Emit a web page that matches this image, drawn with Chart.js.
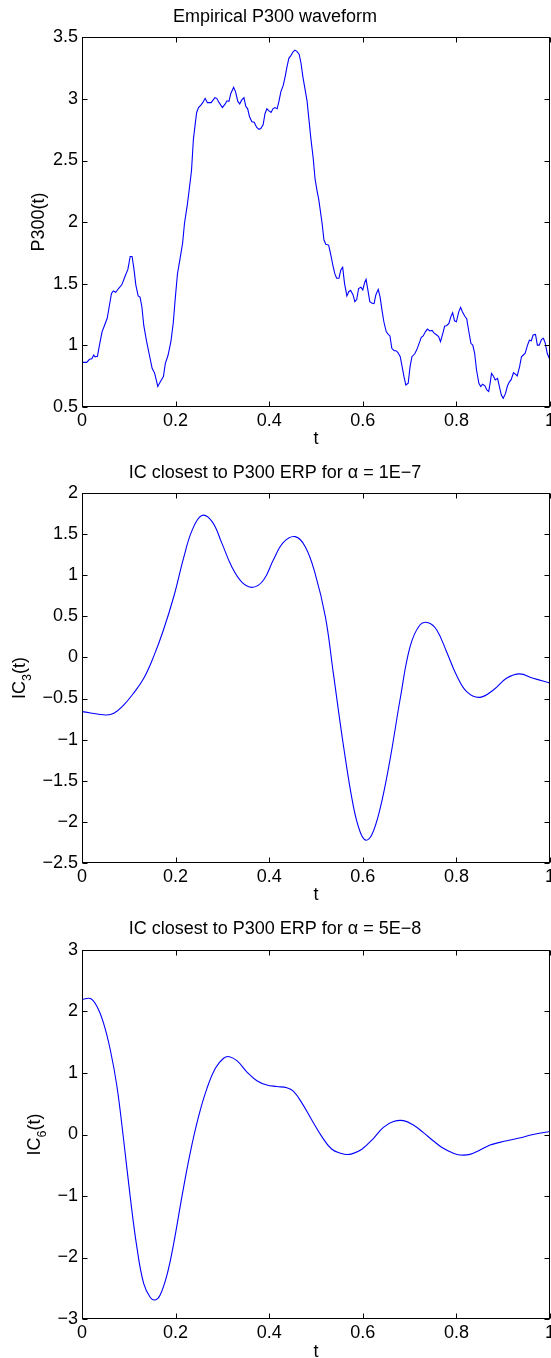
<!DOCTYPE html>
<html>
<head>
<meta charset="utf-8">
<script src="https://cdn.jsdelivr.net/npm/chart.js@4.4.0/dist/chart.umd.min.js"></script>
<style>
  html, body { margin: 0; padding: 0; background: #fff; }
  body { width: 551px; height: 1358px; position: relative; overflow: hidden; }
  canvas { position: absolute; left: 0; }
</style>
</head>
<body>
<canvas id="c1" width="551" height="450" style="top:0px"></canvas>
<canvas id="c2" width="551" height="460" style="top:450px"></canvas>
<canvas id="c3" width="551" height="448" style="top:910px"></canvas>
<script>
// values
const xTicks = [0, 0.2, 0.4, 0.6, 0.8, 1];
const p300Ticks = [0.5, 1, 1.5, 2, 2.5, 3, 3.5];
const ic3Ticks = [-2.5, -2, -1.5, -1, -0.5, 0, 0.5, 1, 1.5, 2];
const ic6Ticks = [-3, -2, -1, 0, 1, 2, 3];

const p300T = [0, 0.01, 0.016, 0.021, 0.025, 0.028, 0.033, 0.038, 0.043, 0.048, 0.054, 0.058, 0.063, 0.067, 0.072, 0.078, 0.085, 0.091, 0.098, 0.103,
  0.107, 0.111, 0.115, 0.120, 0.124, 0.128, 0.132, 0.138, 0.144, 0.150, 0.155, 0.162, 0.167, 0.174, 0.178, 0.184, 0.190, 0.195, 0.1995, 0.204,
  0.209, 0.215, 0.219, 0.225, 0.229, 0.234, 0.238, 0.242, 0.245, 0.249, 0.254, 0.258, 0.263, 0.268, 0.276, 0.280, 0.284, 0.288, 0.293, 0.300,
  0.306, 0.310, 0.314, 0.318, 0.324, 0.328, 0.333, 0.337, 0.341, 0.346, 0.350, 0.354, 0.358, 0.363, 0.368, 0.373, 0.378, 0.382, 0.387, 0.391,
  0.395, 0.399, 0.404, 0.408, 0.412, 0.417, 0.421, 0.425, 0.430, 0.434, 0.438, 0.442, 0.446, 0.451, 0.455, 0.459, 0.464, 0.468, 0.472, 0.477,
  0.481, 0.485, 0.489, 0.494, 0.498, 0.502, 0.506, 0.513, 0.517, 0.521, 0.527, 0.531, 0.536, 0.540, 0.544, 0.549, 0.553, 0.557, 0.561, 0.566,
  0.570, 0.574, 0.579, 0.583, 0.587, 0.591, 0.596, 0.600, 0.604, 0.607, 0.611, 0.615, 0.620, 0.624, 0.628, 0.633, 0.637, 0.641, 0.645, 0.650,
  0.654, 0.658, 0.662, 0.667, 0.671, 0.675, 0.680, 0.684, 0.688, 0.692, 0.697, 0.701, 0.705, 0.711, 0.715, 0.719, 0.725, 0.729, 0.734, 0.738,
  0.743, 0.748, 0.752, 0.758, 0.762, 0.766, 0.771, 0.775, 0.779, 0.784, 0.788, 0.792, 0.796, 0.800, 0.805, 0.809, 0.813, 0.818, 0.822, 0.826,
  0.831, 0.835, 0.839, 0.843, 0.848, 0.852, 0.856, 0.861, 0.865, 0.869, 0.872, 0.875, 0.879, 0.883, 0.888, 0.892, 0.896, 0.900, 0.905, 0.909,
  0.913, 0.917, 0.922, 0.926, 0.930, 0.935, 0.939, 0.943, 0.947, 0.952, 0.956, 0.960, 0.964, 0.969, 0.973, 0.977, 0.982, 0.986, 0.990, 0.994, 1.0];
const p300V = [0.86, 0.86, 0.885, 0.89, 0.92, 0.905, 0.91, 1.015, 1.11, 1.16, 1.22, 1.31, 1.42, 1.44, 1.43, 1.46, 1.49, 1.55, 1.615, 1.72,
  1.72, 1.62, 1.49, 1.40, 1.39, 1.31, 1.16, 1.03, 0.92, 0.81, 0.775, 0.665, 0.70, 0.745, 0.85, 0.92, 1.03, 1.18, 1.39, 1.58,
  1.69, 1.83, 1.99, 2.14, 2.26, 2.42, 2.67, 2.80, 2.89, 2.93, 2.95, 2.97, 3.005, 2.97, 2.97, 2.99, 3.01, 3.005, 2.97, 2.93,
  2.96, 2.985, 2.98, 3.045, 3.095, 3.06, 2.98, 2.96, 2.99, 3.01, 2.94, 2.92, 2.855, 2.815, 2.81, 2.77, 2.753, 2.76, 2.79, 2.88,
  2.92, 2.905, 2.89, 2.92, 2.93, 2.92, 2.985, 3.06, 3.11, 3.18, 3.26, 3.33, 3.35, 3.383, 3.397, 3.387, 3.364, 3.29, 3.18, 3.07,
  2.98, 2.83, 2.68, 2.52, 2.35, 2.26, 2.18, 1.99, 1.854, 1.82, 1.813, 1.745, 1.65, 1.583, 1.543, 1.543, 1.61, 1.632, 1.50, 1.40,
  1.434, 1.445, 1.41, 1.353, 1.37, 1.46, 1.47, 1.448, 1.51, 1.535, 1.445, 1.353, 1.34, 1.337, 1.41, 1.453, 1.39, 1.285, 1.19, 1.11,
  1.09, 1.075, 0.974, 0.955, 0.955, 0.94, 0.906, 0.825, 0.744, 0.676, 0.69, 0.825, 0.906, 0.93, 0.96, 1.0, 1.064, 1.075, 1.11, 1.13,
  1.115, 1.12, 1.10, 1.082, 1.07, 1.028, 1.096, 1.155, 1.158, 1.177, 1.23, 1.264, 1.198, 1.19, 1.27, 1.307, 1.27, 1.235, 1.215, 1.123,
  1.015, 1.0, 0.934, 0.798, 0.69, 0.664, 0.683, 0.67, 0.636, 0.624, 0.69, 0.771, 0.75, 0.717, 0.73, 0.662, 0.595, 0.568, 0.608, 0.668,
  0.70, 0.72, 0.776, 0.765, 0.75, 0.825, 0.906, 0.92, 0.934, 1.0, 1.04, 1.036, 1.082, 1.087, 1.0, 1.0, 1.047, 1.055, 1.015, 0.934, 0.88];

const ic3T = [0, 0.05, 0.068, 0.089, 0.11, 0.132, 0.153, 0.174, 0.196, 0.217, 0.235, 0.256, 0.278, 0.299, 0.32, 0.342, 0.365, 0.388, 0.409, 0.43,
  0.4555, 0.477, 0.498, 0.52, 0.537, 0.559, 0.58, 0.594, 0.606, 0.619, 0.637, 0.658, 0.68, 0.701, 0.722, 0.74, 0.758, 0.779, 0.80, 0.822,
  0.85, 0.879, 0.907, 0.935, 0.964, 1.0];
const ic3V = [-0.66, -0.70, -0.68, -0.58, -0.437, -0.254, 0.01, 0.335, 0.74, 1.21, 1.545, 1.73, 1.655, 1.39, 1.106, 0.915, 0.855, 0.944, 1.19, 1.40,
  1.472, 1.35, 1.025, 0.497, -0.19, -1.087, -1.818, -2.12, -2.225, -2.163, -1.84, -1.25, -0.50, 0.132, 0.396, 0.424, 0.335, 0.07, -0.214, -0.417,
  -0.486, -0.396, -0.254, -0.20, -0.254, -0.31];

const ic6T = [0, 0.018, 0.032, 0.046, 0.0605, 0.0747, 0.089, 0.103, 0.117, 0.1317, 0.146, 0.1566, 0.167, 0.1815, 0.196, 0.2135, 0.231, 0.249, 0.267, 0.285,
  0.3025, 0.315, 0.331, 0.352, 0.3737, 0.395, 0.416, 0.4377, 0.452, 0.47, 0.491, 0.5125, 0.534, 0.555, 0.566, 0.5765, 0.598, 0.623, 0.644, 0.6655,
  0.687, 0.708, 0.7295, 0.751, 0.772, 0.7936, 0.808, 0.829, 0.8505, 0.872, 0.893, 0.915, 0.9345, 0.964, 1.0];
const ic6V = [2.198, 2.21, 2.08, 1.81, 1.374, 0.78, -0.09, -1.01, -1.82, -2.42, -2.65, -2.69, -2.61, -2.285, -1.77, -1.01, -0.306, 0.29, 0.75, 1.076,
  1.24, 1.265, 1.20, 1.02, 0.875, 0.805, 0.78, 0.76, 0.70, 0.51, 0.236, -0.035, -0.24, -0.31, -0.325, -0.315, -0.24, -0.062, 0.116, 0.21,
  0.225, 0.154, 0.03, -0.106, -0.225, -0.306, -0.333, -0.323, -0.252, -0.17, -0.128, -0.09, -0.057, 0.0, 0.05];

const family = '"Liberation Sans", Arial, Helvetica, sans-serif';
const fontSize = 18;
Chart.defaults.font.family = family;
Chart.defaults.color = '#000';

const fmt = v => String(Math.round(v * 10) / 10).replace('-', '\u2212');

// axes box with inward ticks on all four sides, like matlab
const boxPlugin = {
  id: 'box',
  afterDraw(chart) {
    const { ctx, chartArea: a, scales: { x, y } } = chart;
    const L = Math.round(a.left) + 0.5, R = Math.round(a.right) - 0.5;
    const T = Math.round(a.top) + 0.5, B = Math.round(a.bottom) - 0.5;
    ctx.save();
    ctx.strokeStyle = '#000';
    ctx.lineWidth = 1;
    ctx.strokeRect(L, T, R - L, B - T);
    ctx.beginPath();
    x.ticks.forEach(t => {
      const px = Math.round(x.getPixelForValue(t.value)) + 0.5;
      ctx.moveTo(px, B); ctx.lineTo(px, B - 5);
      ctx.moveTo(px, T); ctx.lineTo(px, T + 5);
    });
    y.ticks.forEach(t => {
      const py = Math.round(y.getPixelForValue(t.value)) + 0.5;
      ctx.moveTo(L, py); ctx.lineTo(L + 5, py);
      ctx.moveTo(R, py); ctx.lineTo(R - 5, py);
    });
    ctx.stroke();
    ctx.restore();
  }
};

// rotated y label with optional subscript
const yLabelPlugin = {
  id: 'ylabel',
  afterDraw(chart, args, opts) {
    const { ctx, chartArea } = chart;
    const cy = (chartArea.top + chartArea.bottom) / 2;
    const big = fontSize + 'px ' + family, small = '12.5px ' + family;
    ctx.save();
    ctx.translate(opts.x, cy);
    ctx.rotate(-Math.PI / 2);
    ctx.fillStyle = '#000';
    ctx.textAlign = 'left';
    ctx.textBaseline = 'alphabetic';
    let total = 0;
    const widths = opts.parts.map(p => {
      ctx.font = p[1] ? small : big;
      const w = ctx.measureText(p[0]).width;
      total += w;
      return w;
    });
    let lx = -total / 2;
    opts.parts.forEach((p, i) => {
      ctx.font = p[1] ? small : big;
      ctx.fillText(p[0], lx, p[1] ? opts.sub : 0);
      lx += widths[i];
    });
    ctx.restore();
  }
};

function makeChart(id, c) {
  const canvas = document.getElementById(id);
  return new Chart(canvas, {
    type: 'line',
    data: {
      datasets: [{
        data: c.t.map((t, i) => ({ x: t, y: c.v[i] })),
        borderColor: '#0000ff',
        borderWidth: 1.1,
        pointRadius: 0,
        fill: false,
        tension: c.smooth ? 0.4 : 0
      }]
    },
    options: {
      responsive: false,
      animation: false,
      devicePixelRatio: 1,
      events: [],
      layout: { padding: { left: 0, right: 1, top: 0, bottom: 0 } },
      plugins: {
        legend: { display: false },
        tooltip: { enabled: false },
        title: {
          display: true,
          text: c.title,
          color: '#000',
          font: { size: fontSize, weight: 'normal' },
          padding: { top: c.titleTop, bottom: c.titleBottom }
        },
        ylabel: { x: c.labelX, parts: c.label, sub: 6 }
      },
      scales: {
        x: {
          type: 'linear',
          min: 0,
          max: 1,
          grid: { display: false, drawTicks: false },
          border: { display: false },
          afterBuildTicks: s => { s.ticks = xTicks.map(v => ({ value: v })); },
          afterFit: s => { s.height = canvas.height - c.bottom; s.paddingLeft = 0; s.paddingRight = 0; },
          ticks: { autoSkip: false, maxRotation: 0, padding: 3.5, color: '#000', font: { size: fontSize }, callback: fmt },
          title: { display: true, text: 't', color: '#000', font: { size: fontSize }, padding: { top: 0, bottom: c.tPad } }
        },
        y: {
          type: 'linear',
          min: c.yTicks[0],
          max: c.yTicks[c.yTicks.length - 1],
          grid: { display: false, drawTicks: false },
          border: { display: false },
          afterBuildTicks: s => { s.ticks = c.yTicks.map(v => ({ value: v })); },
          afterFit: s => { s.width = 82; s.paddingTop = 0; s.paddingBottom = 0; },
          ticks: { autoSkip: false, padding: 4, color: '#000', font: { size: fontSize }, callback: fmt }
        }
      }
    },
    plugins: [boxPlugin, yLabelPlugin]
  });
}

makeChart('c1', {
  title: 'Empirical P300 waveform', titleTop: 6.5, titleBottom: 9.3,
  t: p300T, v: p300V, yTicks: p300Ticks, bottom: 406.7, tPad: 0.2,
  label: [['P300(t)', false]], labelX: 44, smooth: false
});
makeChart('c2', {
  title: 'IC closest to P300 ERP for \u03b1 = 1E\u22127', titleTop: 12.2, titleBottom: 9.5,
  t: ic3T, v: ic3V, yTicks: ic3Ticks, bottom: 412.7, tPad: 4.2,
  label: [['IC', false], ['3', true], ['(t)', false]], labelX: 25, smooth: true
});
makeChart('c3', {
  title: 'IC closest to P300 ERP for \u03b1 = 5E\u22128', titleTop: 8.2, titleBottom: 10.2,
  t: ic6T, v: ic6V, yTicks: ic6Ticks, bottom: 409, tPad: -4.5,
  label: [['IC', false], ['6', true], ['(t)', false]], labelX: 39.5, smooth: true
});
</script>
</body>
</html>
